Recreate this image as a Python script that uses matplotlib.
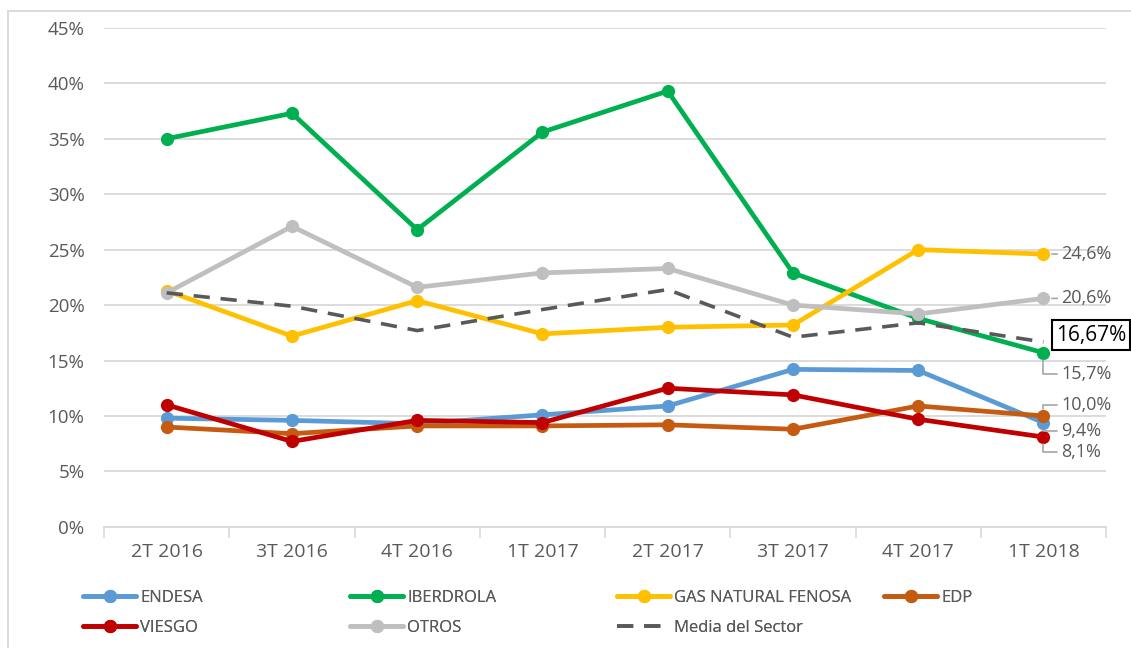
import matplotlib.pyplot as plt
from matplotlib.lines import Line2D
from matplotlib.ticker import FuncFormatter, FixedLocator

plt.rcParams['font.family'] = ['Open Sans', 'DejaVu Sans']

quarters = ["2T 2016", "3T 2016", "4T 2016", "1T 2017", "2T 2017", "3T 2017", "4T 2017", "1T 2018"]

endesa = [9.8, 9.6, 9.3, 10.1, 10.9, 14.2, 14.1, 9.4]
iberdrola = [35.0, 37.3, 26.8, 35.6, 39.3, 22.9, 18.8, 15.7]
gas_natural = [21.3, 17.2, 20.4, 17.4, 18.0, 18.2, 25.0, 24.6]
edp = [9.0, 8.4, 9.1, 9.1, 9.2, 8.8, 10.9, 10.0]
viesgo = [11.0, 7.7, 9.6, 9.4, 12.5, 11.9, 9.7, 8.1]
otros = [21.1, 27.1, 21.6, 22.9, 23.3, 20.0, 19.2, 20.6]
media = [21.1, 19.9, 17.7, 19.6, 21.4, 17.1, 18.4, 16.67]

series = [
    ("ENDESA", endesa, "#5B9BD5"),
    ("IBERDROLA", iberdrola, "#00B050"),
    ("GAS NATURAL FENOSA", gas_natural, "#FFC000"),
    ("EDP", edp, "#C55A11"),
    ("VIESGO", viesgo, "#C00000"),
    ("OTROS", otros, "#BFBFBF"),
]

# labels at the last point: (values, vertical shift of the label in px)
end_labels = [
    (gas_natural, 0),
    (otros, 0),
    (iberdrola, -21),
    (edp, 11),
    (endesa, -8),
    (viesgo, -15),
]

fig = plt.figure(figsize=(11.31, 6.48), dpi=100)
ax = fig.add_axes([0.092, 0.187, 0.886, 0.770])

x = list(range(len(quarters)))
handles = {}
for name, vals, col in series:
    h, = ax.plot(x, vals, color=col, lw=3.4, marker="o", ms=8.5, solid_capstyle="round", label=name)
    handles[name] = h
h, = ax.plot(x, media, color="#595959", lw=2.6, ls=(0, (4.5, 3)), label="Media del Sector")
handles["Media del Sector"] = h

ax.set_xlim(-0.5, 7.5)
ax.set_ylim(0, 45)
ax.set_yticks(range(0, 46, 5))
ax.yaxis.set_major_formatter(FuncFormatter(lambda v, p: f"{int(v)}%"))
ax.set_xticks(x)
ax.set_xticklabels(quarters)
ax.xaxis.set_minor_locator(FixedLocator([i - 0.5 for i in range(len(quarters) + 1)]))
ax.tick_params(axis="x", which="major", length=0, pad=12, labelsize=14, colors="#595959")
ax.tick_params(axis="x", which="minor", length=8, width=1.2, color="#D9D9D9")
ax.tick_params(axis="y", length=0, pad=14, labelsize=13.5, labelcolor="#595959")
ax.grid(axis="y", color="#D9D9D9", lw=1.3)
ax.set_axisbelow(True)
for s in ["top", "right", "left"]:
    ax.spines[s].set_visible(False)
ax.spines["bottom"].set_color("#D9D9D9")
ax.spines["bottom"].set_linewidth(1.3)

for vals, dy in end_labels:
    v = vals[-1]
    txt = f"{v:.1f}%".replace(".", ",")
    if dy == 0:
        ax.annotate(txt, xy=(7, v), xytext=(13, 0), textcoords="offset points",
                    ha="left", va="center", fontsize=13, color="#595959",
                    arrowprops=dict(arrowstyle="-", color="#A6A6A6", lw=1.2, shrinkA=1, shrinkB=6))
    else:
        ax.annotate(txt, xy=(7, v), xytext=(13, dy * 0.72), textcoords="offset points",
                    ha="left", va="center", fontsize=13, color="#595959",
                    arrowprops=dict(arrowstyle="-", color="#A6A6A6", lw=1.2, shrinkA=1, shrinkB=5,
                                    connectionstyle="angle,angleA=0,angleB=90,rad=0"))

ax.annotate(f"{media[-1]:.2f}%".replace(".", ","), xy=(7, media[-1]), xytext=(9, 5),
            textcoords="offset points", ha="left", va="center", fontsize=15, color="black",
            bbox=dict(boxstyle="square,pad=0.2", fc="white", ec="black", lw=1.5))

# legend laid out as four fixed-width columns, like the original
legend_cols = [["ENDESA", "VIESGO"], ["IBERDROLA", "OTROS"],
               ["GAS NATURAL FENOSA", "Media del Sector"], ["EDP"]]
for i, names in enumerate(legend_cols):
    leg = fig.legend([handles[n] for n in names], names, loc="upper left",
                     bbox_to_anchor=((83 + 267 * i) / 1131, 1 - 590 / 648), ncol=1, frameon=False,
                     fontsize=12, handlelength=3.2, handletextpad=0.25, labelspacing=0.85,
                     borderaxespad=0, borderpad=0)
    for t in leg.get_texts():
        t.set_color("#595959")
    fig.add_artist(leg)

fig.add_artist(Line2D([8 / 1131, 8 / 1131], [0, 1 - 11 / 648], transform=fig.transFigure, color="#D9D9D9", lw=1.3))
fig.add_artist(Line2D([8 / 1131, 1], [1 - 11 / 648, 1 - 11 / 648], transform=fig.transFigure, color="#D9D9D9", lw=1.3))

fig.savefig("out.png", dpi=100)
